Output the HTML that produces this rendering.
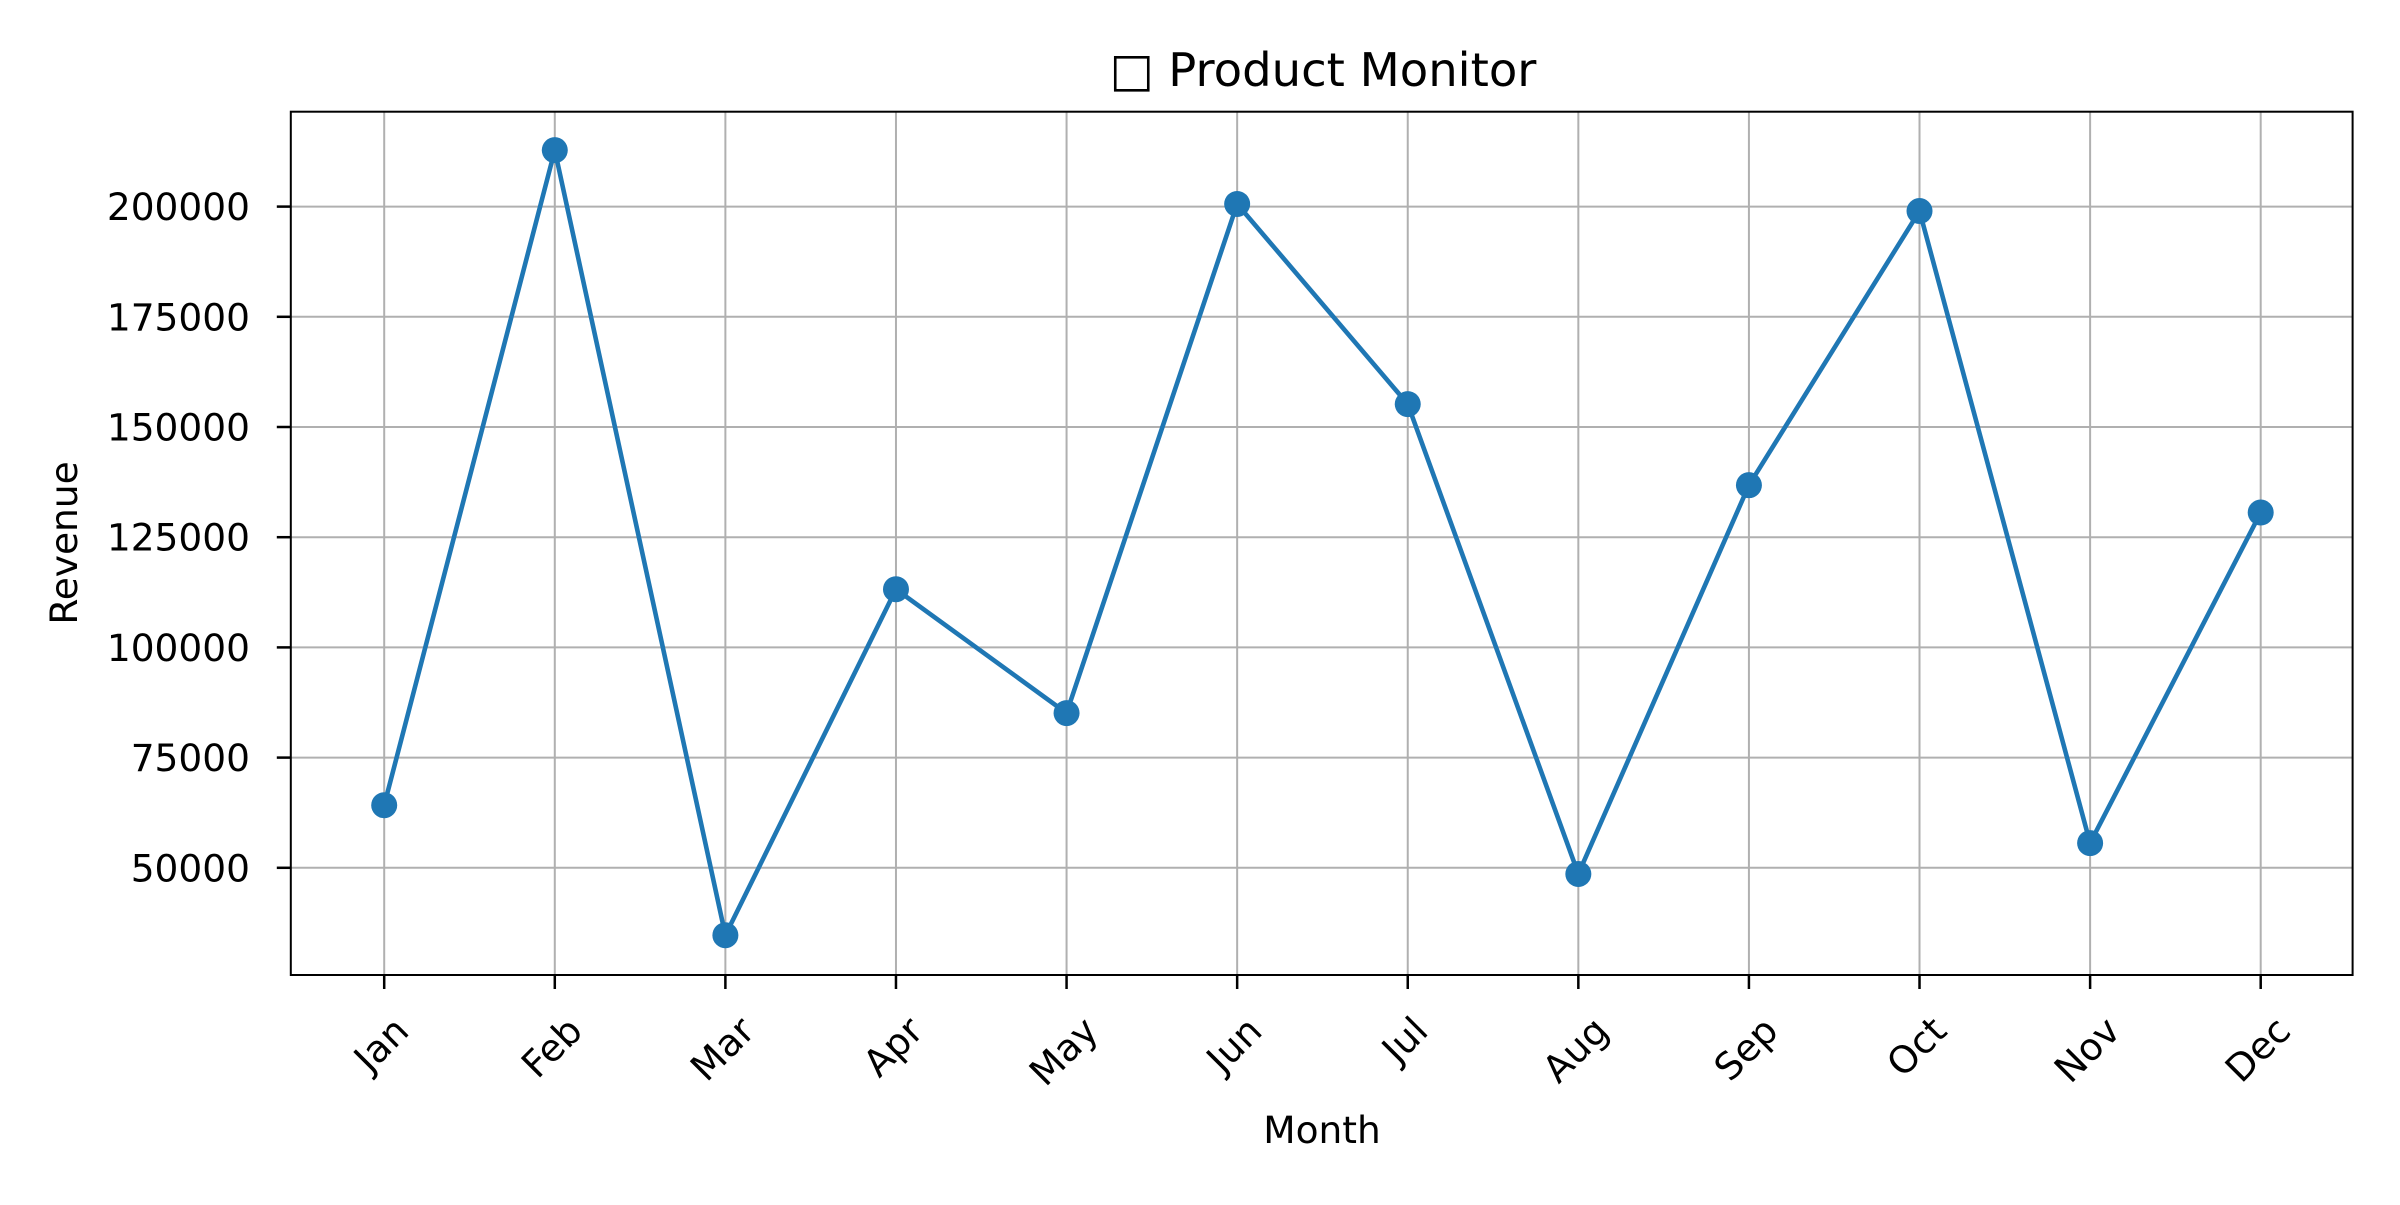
<!DOCTYPE html>
<html><head><meta charset="utf-8"><style>
html,body{margin:0;padding:0;background:#fff;}
svg text{font-family:"DejaVu Sans","Liberation Sans",sans-serif;fill:#000;}
</style></head><body>
<svg id="chart" width="2400" height="1200" viewBox="0 0 2400 1200" xmlns="http://www.w3.org/2000/svg">
<rect width="2400" height="1200" fill="#fff"/>
<text x="1323" y="86" font-size="46.5" text-anchor="middle">□ Product Monitor</text>
<g id="grid"></g>
<g id="series"></g>
<rect x="290.8" y="111.7" width="2061.8" height="863.3" fill="none" stroke="#000" stroke-width="2"/>
<g id="axes"></g>
<text x="1322" y="1143" font-size="37.5" text-anchor="middle">Month</text>
<text x="0" y="0" font-size="37.5" text-anchor="middle" transform="translate(77,543) rotate(-90)">Revenue</text>
</svg>
<script>
const categories=["Jan","Feb","Mar","Apr","May","Jun","Jul","Aug","Sep","Oct","Nov","Dec"];
const revenue=[64200,212800,34700,113200,85100,200600,155200,48600,136800,199000,55600,130600];
const yTicks=[50000,75000,100000,125000,150000,175000,200000];
const NS="http://www.w3.org/2000/svg";
const L=290.8,R=2352.6,T=111.7,B=975;
function xS(i){return 384.2+i*(2260.7-384.2)/(categories.length-1);}
function yS(v){return 867.8-(v-50000)*(661.2/150000);}
function mk(tag,attrs,parent){const e=document.createElementNS(NS,tag);for(const k in attrs)e.setAttribute(k,attrs[k]);parent.appendChild(e);return e;}
const grid=document.getElementById('grid'),axes=document.getElementById('axes'),series=document.getElementById('series');
categories.forEach((c,i)=>{
  const x=xS(i);
  const g=mk('line',{x1:x,x2:x,y1:T,y2:B,stroke:'#b0b0b0','stroke-width':2},grid);
  
  
  const t=mk('line',{x1:x,x2:x,y1:B,y2:B+14,stroke:'#000','stroke-width':2.5},axes);
  
  
  const lb=mk('text',{x:0,y:0,'font-size':37.5,'text-anchor':'middle','dominant-baseline':'central'},axes);
  lb.textContent=c;
  
  
  const w=lb.getComputedTextLength(),h=25;
  const H=(w+h)/Math.SQRT2;
  lb.setAttribute('transform',`translate(${x-3},${B+40+H/2}) rotate(-45)`);
});
yTicks.forEach(v=>{
  const y=yS(v);
  const g=mk('line',{x1:L,x2:R,y1:y,y2:y,stroke:'#b0b0b0','stroke-width':2},grid);
  
  
  const t=mk('line',{x1:L-14,x2:L,y1:y,y2:y,stroke:'#000','stroke-width':2.5},axes);
  
  
  const lb=mk('text',{x:250,y:y+13.5,'font-size':37.5,'text-anchor':'end'},axes);
  lb.textContent=String(v);
  
  
});
const pts=revenue.map((v,i)=>xS(i)+','+yS(v)).join(' ');
const line=mk('polyline',{points:pts,fill:'none',stroke:'#1f77b4','stroke-width':4.6,'stroke-linejoin':'round'},series);


revenue.forEach((v,i)=>{
  const c=mk('circle',{cx:xS(i),cy:yS(v),r:13,fill:'#1f77b4'},series);
  
  
});
</script>
</body></html>
